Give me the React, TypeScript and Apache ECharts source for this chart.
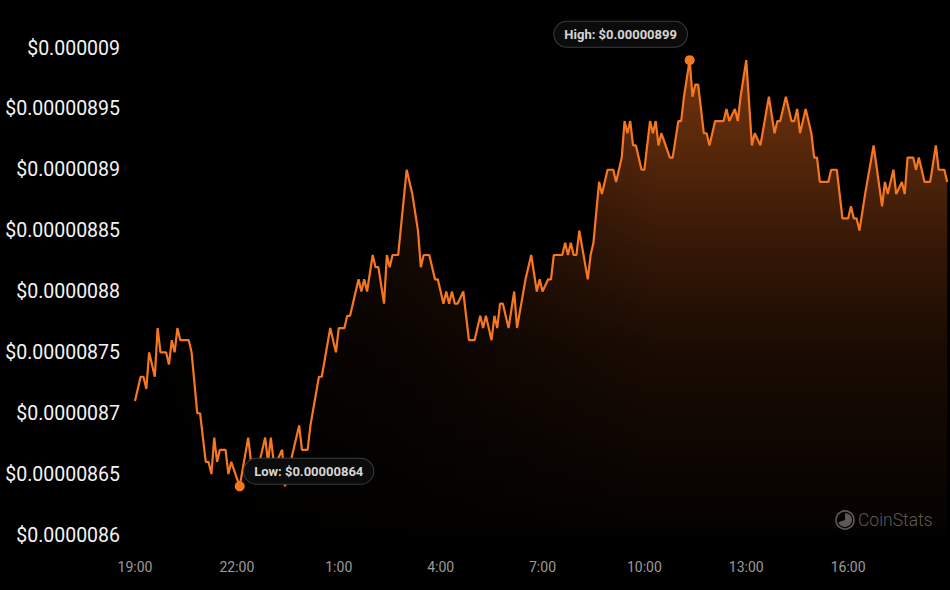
import React, { useEffect, useRef } from "react";
import * as echarts from "echarts";

// Minutes elapsed since 19:00 (24h window) and price in units of 1e-8 USD
const minutesSince1900 = [
  0, 10, 15, 20, 25, 35, 40, 45, 55, 60, 65, 70, 75, 80, 95, 100, 110, 115, 125, 130,
  135, 140, 145, 150, 160, 165, 170, 185, 200, 205, 215, 230, 235, 240, 245, 250, 260, 265, 280, 290,
  295, 305, 310, 325, 330, 345, 355, 360, 370, 375, 380, 395, 400, 405, 410, 420, 425, 430, 440, 445,
  450, 455, 465, 480, 490, 500, 505, 510, 520, 530, 535, 540, 545, 550, 555, 560, 565, 570, 580, 590,
  600, 610, 615, 620, 630, 635, 640, 645, 650, 660, 670, 675, 690, 695, 700, 710, 715, 720, 730, 735,
  740, 755, 760, 765, 770, 775, 780, 785, 800, 805, 810, 820, 825, 835, 845, 850, 860, 865, 870, 875,
  880, 885, 895, 900, 910, 915, 920, 925, 930, 945, 950, 960, 965, 970, 980, 985, 990, 995, 1005, 1010,
  1015, 1025, 1040, 1045, 1050, 1060, 1065, 1070, 1080, 1090, 1095, 1105, 1120, 1130, 1135, 1140, 1150, 1160, 1165, 1170,
  1175, 1185, 1195, 1200, 1205, 1210, 1225, 1230, 1240, 1250, 1260, 1265, 1270, 1275, 1280, 1290, 1305, 1320, 1325, 1330,
  1340, 1345, 1355, 1360, 1365, 1375, 1380, 1385, 1395, 1405, 1415, 1420, 1430, 1435,
];

const priceE8 = [
  871, 873, 873, 872, 875, 873, 877, 875, 875, 874, 876, 875, 877, 876, 876, 875, 870, 870, 866, 866,
  865, 868, 866, 867, 867, 865, 866, 864, 868, 866, 865, 868, 866, 868, 866, 866, 867, 864, 867, 869,
  867, 867, 869, 873, 873, 877, 875, 877, 877, 878, 878, 881, 880, 881, 880, 883, 882, 882, 879, 883,
  882, 883, 883, 890, 888, 885, 882, 883, 883, 881, 881, 880, 879, 880, 879, 880, 879, 879, 880, 876,
  876, 878, 877, 878, 876, 878, 877, 879, 879, 877, 880, 877, 881, 882, 883, 880, 881, 880, 881, 881,
  883, 883, 884, 883, 884, 883, 883, 885, 881, 883, 884, 889, 888, 890, 890, 889, 891, 894, 893, 894,
  892, 892, 890, 890, 894, 893, 894, 892, 893, 891, 891, 894, 894, 896, 899, 896, 897, 897, 893, 893,
  892, 894, 894, 895, 894, 895, 894, 896, 899, 892, 893, 892, 896, 893, 894, 894, 896, 894, 894, 895,
  893, 895, 893, 891, 891, 889, 889, 890, 890, 886, 886, 887, 886, 886, 885, 888, 892, 887, 889, 888,
  890, 888, 889, 888, 891, 891, 890, 891, 889, 889, 892, 890, 890, 889,
];

const xTickStepMinutes = 180;
const yTickValuesE8 = [860, 865, 870, 875, 880, 885, 890, 895, 900];

const ORANGE = "#f67720";

function fmtPrice(vE8: number): string {
  return "$" + String(parseFloat((vE8 * 1e-8).toPrecision(6)));
}

export default function App() {
  const ref = useRef<HTMLDivElement>(null);

  useEffect(() => {
    if (!ref.current) return;
    const chart = echarts.init(ref.current, undefined, { renderer: "svg" });

    const data = minutesSince1900.map((m, i) => [m, priceE8[i]]);

    let maxI = 0;
    let minI = 0;
    priceE8.forEach((v, i) => {
      if (v > priceE8[maxI]) maxI = i;
      if (v < priceE8[minI]) minI = i;
    });

    const boxLabel = {
      show: true,
      position: "inside",
      color: "#d6d6d6",
      fontFamily: "Roboto",
      fontWeight: "bold",
      fontSize: 13,
      backgroundColor: "#0b0b0b",
      borderColor: "#3c3c3c",
      borderWidth: 1,
      borderRadius: 14,
      padding: [6, 10, 6, 10],
    };

    const option = {
      animation: false,
      backgroundColor: "#000000",
      grid: { left: 135, right: 0, top: 48, bottom: 55 },
      xAxis: {
        type: "value",
        min: 0,
        max: 1440,
        interval: xTickStepMinutes,
        axisLine: { show: false },
        axisTick: { show: false },
        splitLine: { show: false },
        axisLabel: {
          color: "#9a9a9a",
          fontSize: 14,
          fontFamily: "Roboto",
          margin: 25,
          showMaxLabel: false,
          formatter: (v: number) => {
            const h = Math.floor(((19 * 60 + v) % 1440) / 60);
            return `${h}:00`;
          },
        },
      },
      yAxis: {
        type: "value",
        min: yTickValuesE8[0],
        max: yTickValuesE8[yTickValuesE8.length - 1],
        interval: 5,
        axisLine: { show: false },
        axisTick: { show: false },
        splitLine: { show: false },
        axisLabel: {
          color: "#f4f4f4",
          fontSize: 19.5,
          fontFamily: "Roboto",
          margin: 15,
          formatter: (v: number) => fmtPrice(v),
        },
      },
      series: [
        {
          type: "line",
          data,
          z: 1,
          showSymbol: false,
          silent: true,
          lineStyle: { width: 0, opacity: 0 },
          areaStyle: {
            color: new echarts.graphic.LinearGradient(0, 0, 0, 1, [
              { offset: 0, color: "rgba(255,114,30,0.64)" },
              { offset: 0.17, color: "rgba(255,114,30,0.5)" },
              { offset: 0.4, color: "rgba(255,114,30,0.29)" },
              { offset: 0.6, color: "rgba(255,114,30,0.15)" },
              { offset: 1, color: "rgba(255,114,30,0.02)" },
            ]),
          },
        },
        {
          type: "line",
          data,
          z: 3,
          showSymbol: false,
          lineStyle: { width: 2.2, color: ORANGE },
          markPoint: {
            data: [
              {
                coord: data[maxI],
                symbol: "circle",
                symbolSize: 10,
                itemStyle: { color: ORANGE },
                label: {
                  ...boxLabel,
                  offset: [-69, -26],
                  formatter: `High: $${(priceE8[maxI] / 1e8).toFixed(8)}`,
                },
              },
              {
                coord: data[minI],
                symbol: "circle",
                symbolSize: 10,
                itemStyle: { color: ORANGE },
                label: {
                  ...boxLabel,
                  offset: [69, -15],
                  formatter: `Low: $${(priceE8[minI] / 1e8).toFixed(8)}`,
                },
              },
            ],
          },
        },
      ],
      graphic: [
        {
          type: "rect",
          silent: true,
          z: 2,
          shape: { x: 135, y: 40, width: 525, height: 500 },
          style: {
            fill: new echarts.graphic.LinearGradient(0, 0, 1, 0, [
              { offset: 0, color: "rgba(0,0,0,1)" },
              { offset: 0.5, color: "rgba(0,0,0,0.65)" },
              { offset: 1, color: "rgba(0,0,0,0)" },
            ]),
          },
        },
        {
          type: "circle",
          silent: true,
          shape: { cx: 845, cy: 520, r: 9 },
          style: { fill: "none", stroke: "#585858", lineWidth: 1.6 },
        },
        {
          type: "sector",
          silent: true,
          shape: { cx: 845, cy: 520, r: 7, r0: 0, startAngle: -Math.PI / 2, endAngle: Math.PI * 0.9 },
          style: { fill: "#585858" },
        },
        {
          type: "text",
          silent: true,
          x: 858,
          y: 520,
          style: {
            text: "CoinStats",
            fill: "#5a5a5a",
            font: "300 17.5px Roboto",
            verticalAlign: "middle",
          },
        },
      ],
    };

    chart.setOption(option as any);
    return () => chart.dispose();
  }, []);

  return (
    <div
      ref={ref}
      style={{ position: "fixed", left: 0, top: 0, width: 950, height: 590, background: "#000" }}
    />
  );
}
